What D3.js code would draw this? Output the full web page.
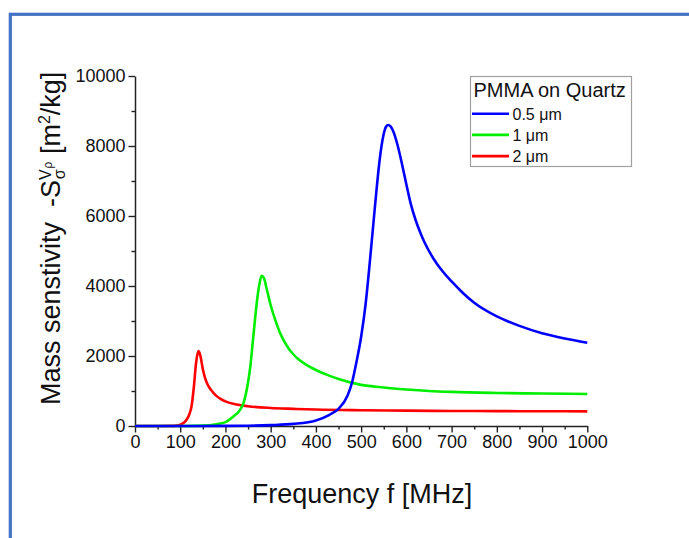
<html lang="en">
<head>
<meta charset="utf-8">
<title>Mass sensitivity</title>
<script src="https://cdn.jsdelivr.net/npm/d3@7"></script>
<style>
  body { margin: 0; background: white; }
  text { font-family: "Liberation Sans", Arial, sans-serif; fill: #111; }
</style>
</head>
<body></body>
<script type="text/javascript">

//****************************************************************************************************************************//
// Data

var seriesNames = ["0.5 \u03bcm", "1 \u03bcm", "2 \u03bcm"];
var seriesColors = ["#0000ff", "#00ee00", "#ff0000"];

var freqBlue = [0, 100, 200, 250, 300, 350, 400, 430, 450, 470, 480, 490, 500, 510, 520, 530, 540, 545, 550, 555, 560, 565, 570, 580, 590, 600, 610, 620, 630, 640, 660, 680, 700, 725, 750, 800, 850, 900, 950, 1000];
var valsBlue = [0, 0, 3, 8, 25, 60, 160, 320, 490, 870, 1250, 1850, 2550, 3500, 4800, 6200, 7500, 8000, 8350, 8550, 8600, 8560, 8450, 8050, 7500, 6900, 6330, 5900, 5550, 5250, 4780, 4420, 4130, 3800, 3520, 3130, 2860, 2650, 2500, 2380];

var freqGreen = [0, 100, 150, 180, 200, 220, 230, 240, 250, 255, 260, 265, 270, 275, 280, 285, 290, 300, 310, 320, 330, 340, 350, 360, 380, 400, 425, 450, 500, 550, 600, 650, 700, 800, 900, 1000];
var valsGreen = [0, 0, 10, 50, 110, 300, 420, 660, 1250, 1700, 2350, 3000, 3600, 4050, 4290, 4230, 3980, 3450, 3030, 2680, 2420, 2210, 2050, 1920, 1740, 1600, 1460, 1340, 1175, 1100, 1045, 1002, 975, 945, 928, 914];

var freqRed = [0, 50, 80, 90, 100, 110, 115, 120, 125, 130, 135, 140, 142, 145, 150, 155, 160, 165, 170, 180, 190, 200, 225, 250, 300, 350, 400, 500, 600, 700, 800, 900, 1000];
var valsRed = [0, 0, 3, 10, 35, 120, 200, 330, 560, 1100, 1800, 2140, 2110, 1980, 1620, 1370, 1200, 1085, 1000, 860, 770, 705, 615, 565, 515, 490, 470, 450, 438, 430, 425, 421, 419];

var xTicks = [0, 100, 200, 300, 400, 500, 600, 700, 800, 900, 1000];
var yTicks = [0, 2000, 4000, 6000, 8000, 10000];

var series = [
    { name: seriesNames[0], color: seriesColors[0], f: freqBlue, v: valsBlue },
    { name: seriesNames[1], color: seriesColors[1], f: freqGreen, v: valsGreen },
    { name: seriesNames[2], color: seriesColors[2], f: freqRed, v: valsRed }
];

//****************************************************************************************************************************//
// Canvas

var width = 689,
    height = 538;

var canvas = d3.select("body")
            .append("svg")
            .attr("width", width)
            .attr("height", height);

canvas.append("rect")
        .attr("width", width)
        .attr("height", height)
        .attr("fill", "white");

// blue frame round the figure (only left and top edges visible)
canvas.append("rect")
        .attr("x", 10.3)
        .attr("y", 14.3)
        .attr("width", 800)
        .attr("height", 700)
        .attr("fill", "none")
        .attr("stroke", "#4472c4")
        .attr("stroke-width", 3.2);

//****************************************************************************************************************************//
// Scales and axes

var x = d3.scaleLinear().domain([0, 1000]).range([135, 587.3]);
var y = d3.scaleLinear().domain([0, 10000]).range([426, 76]);

var xMinor = d3.range(50, 1000, 100);
var yMinor = d3.range(1000, 10000, 2000);

canvas.append("g")
    .attr("transform", "translate(0," + y(0) + ")")
    .call(d3.axisBottom(x).tickValues(xMinor).tickSize(3.5).tickFormat(""))
    .call(function(g){ g.select(".domain").remove(); })
    .selectAll("line").attr("stroke", "#222").attr("stroke-width", 1.4);

canvas.append("g")
    .attr("transform", "translate(" + x(0) + ",0)")
    .call(d3.axisLeft(y).tickValues(yMinor).tickSize(3.5).tickFormat(""))
    .call(function(g){ g.select(".domain").remove(); })
    .selectAll("line").attr("stroke", "#222").attr("stroke-width", 1.4);

var xAxis = canvas.append("g")
    .attr("transform", "translate(0," + y(0) + ")")
    .call(d3.axisBottom(x).tickValues(xTicks).tickFormat(d3.format("d")).tickSize(6.5).tickSizeOuter(0).tickPadding(3));

var yAxis = canvas.append("g")
    .attr("transform", "translate(" + x(0) + ",0)")
    .call(d3.axisLeft(y).tickValues(yTicks).tickFormat(d3.format("d")).tickSize(6.5).tickSizeOuter(0).tickPadding(3));

[xAxis, yAxis].forEach(function(a){
    a.select(".domain").attr("stroke", "#222").attr("stroke-width", 1.5);
    a.selectAll(".tick line").attr("stroke", "#222").attr("stroke-width", 1.4);
    a.selectAll(".tick text")
        .attr("fill", "#111")
        .style("font-family", "'Liberation Sans', Arial, sans-serif")
        .style("font-size", "18px");
});

//****************************************************************************************************************************//
// Curves

var line = d3.line()
    .x(function(d){ return x(d[0]); })
    .y(function(d){ return y(d[1]); })
    .curve(d3.curveMonotoneX);

series.slice().reverse().forEach(function(s){
    var pts = s.f.map(function(f, i){ return [f, s.v[i]]; });
    canvas.append("path")
        .attr("d", line(pts))
        .attr("fill", "none")
        .attr("stroke", s.color)
        .attr("stroke-width", 2.6)
        .attr("stroke-linejoin", "round");
});

//****************************************************************************************************************************//
// Axis titles

canvas.append("text")
    .attr("x", 362)
    .attr("y", 503)
    .attr("text-anchor", "middle")
    .style("font-size", "27px")
    .text("Frequency f [MHz]");

var yTitle = canvas.append("text")
    .attr("transform", "translate(60,405) rotate(-90)")
    .style("font-size", "27px");
yTitle.append("tspan").text("Mass senstivity\u00a0\u00a0-S");
yTitle.append("tspan").style("font-size", "16px").attr("dy", -9).text("V");
yTitle.append("tspan").style("font-size", "16px").attr("dx", -10).attr("dy", 14).text("\u03c3");
yTitle.append("tspan").style("font-size", "12px").attr("dx", 1).attr("dy", -13).text("\u03c1");
yTitle.append("tspan").attr("dy", 8).text(" [m");
yTitle.append("tspan").style("font-size", "16px").attr("dy", -10).text("2");
yTitle.append("tspan").attr("dy", 10).text("/kg]");

//****************************************************************************************************************************//
// Legend

var legend = canvas.append("g");
legend.append("rect")
    .attr("x", 470.5)
    .attr("y", 76.5)
    .attr("width", 161)
    .attr("height", 90)
    .attr("fill", "white")
    .attr("stroke", "#a0a0a0")
    .attr("stroke-width", 1.2);

legend.append("text")
    .attr("x", 473.5)
    .attr("y", 97)
    .style("font-size", "20px")
    .text("PMMA on Quartz");

series.forEach(function(s, i){
    var ly = 113.7 + i*21.2;
    legend.append("line")
        .attr("x1", 472).attr("x2", 509)
        .attr("y1", ly).attr("y2", ly)
        .attr("stroke", s.color)
        .attr("stroke-width", 2.6);
    legend.append("text")
        .attr("x", 512.5)
        .attr("y", ly + 5.8)
        .style("font-size", "16px")
        .text(s.name);
});

</script>
</html>
